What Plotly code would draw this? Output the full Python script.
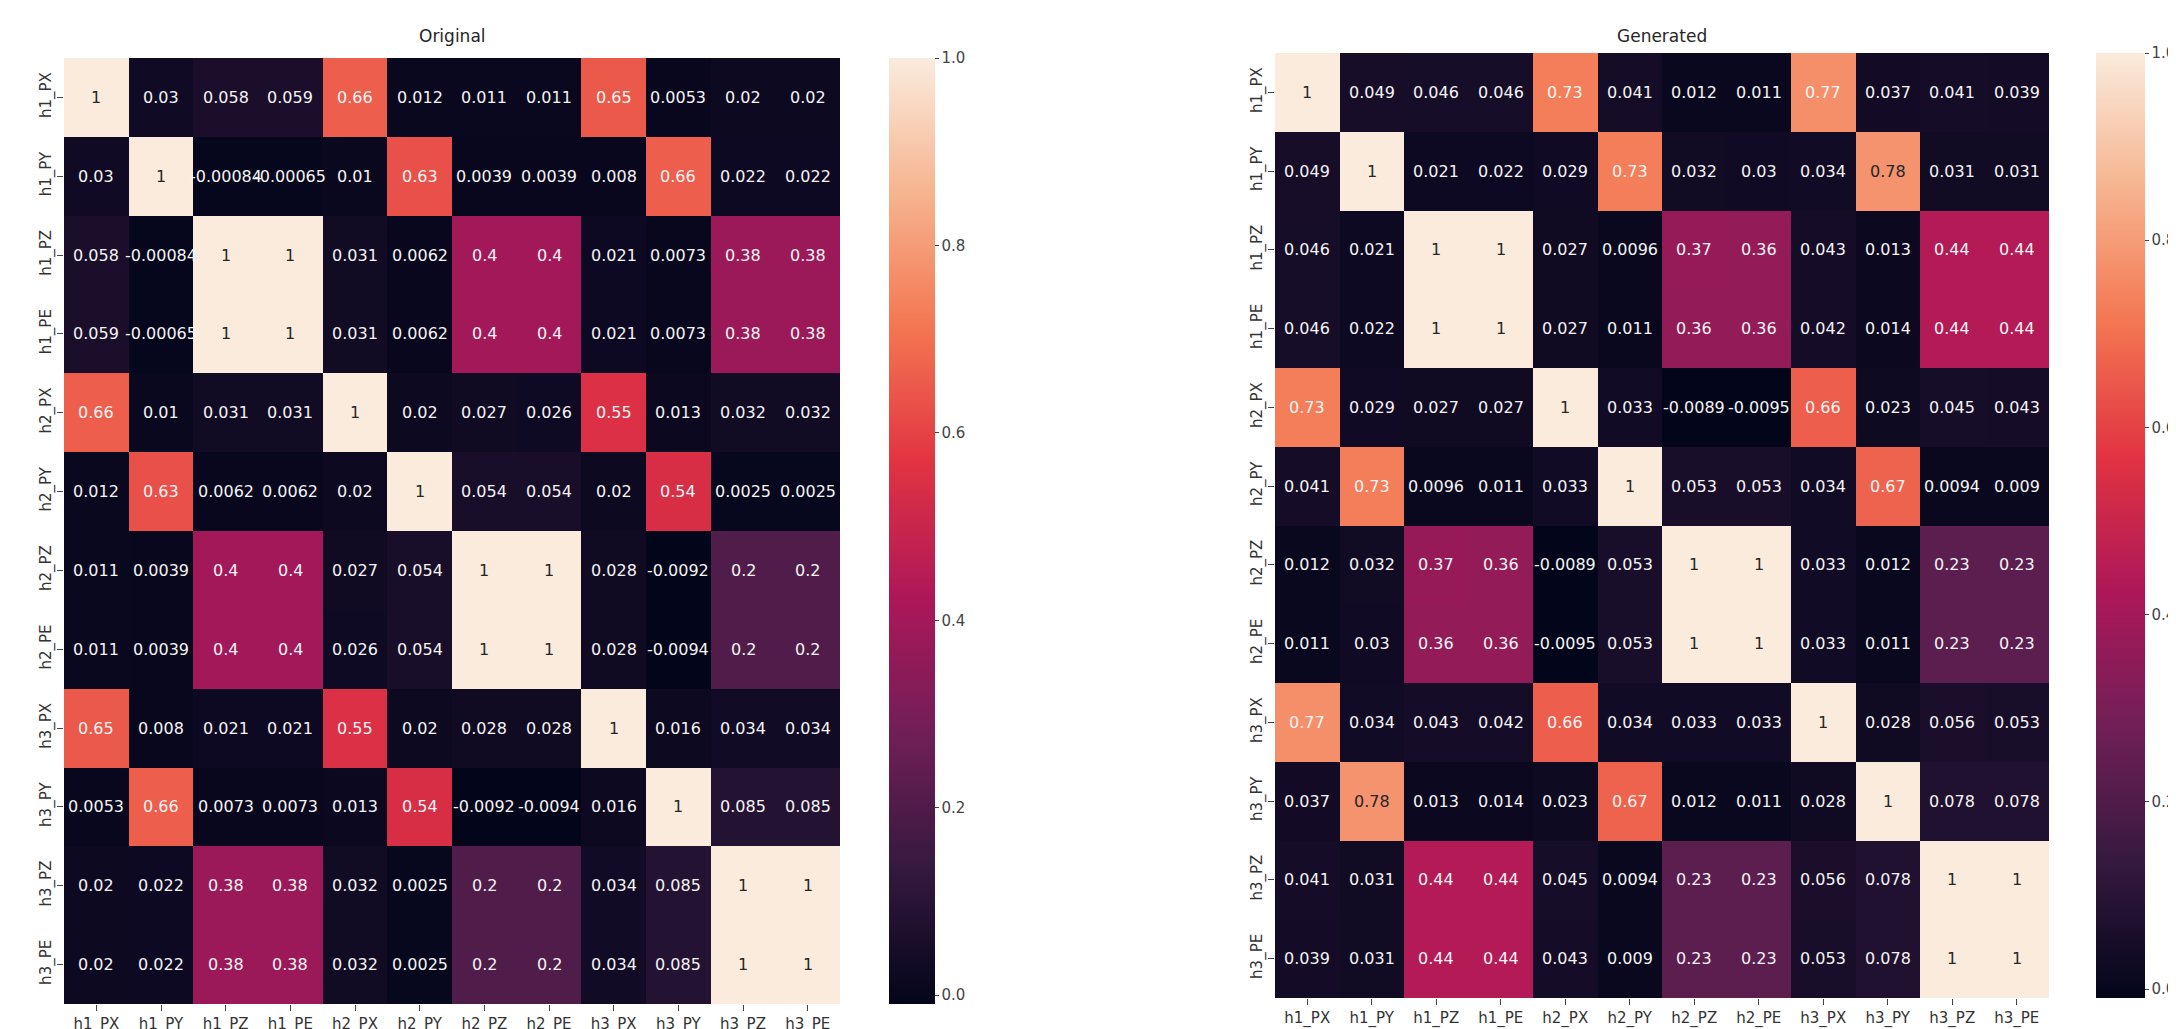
import plotly.graph_objects as go

labels = ["h1_PX", "h1_PY", "h1_PZ", "h1_PE", "h2_PX", "h2_PY",
          "h2_PZ", "h2_PE", "h3_PX", "h3_PY", "h3_PZ", "h3_PE"]

original = [
    [1, 0.03, 0.058, 0.059, 0.66, 0.012, 0.011, 0.011, 0.65, 0.0053, 0.02, 0.02],
    [0.03, 1, -0.00084, -0.00065, 0.01, 0.63, 0.0039, 0.0039, 0.008, 0.66, 0.022, 0.022],
    [0.058, -0.00084, 1, 1, 0.031, 0.0062, 0.4, 0.4, 0.021, 0.0073, 0.38, 0.38],
    [0.059, -0.00065, 1, 1, 0.031, 0.0062, 0.4, 0.4, 0.021, 0.0073, 0.38, 0.38],
    [0.66, 0.01, 0.031, 0.031, 1, 0.02, 0.027, 0.026, 0.55, 0.013, 0.032, 0.032],
    [0.012, 0.63, 0.0062, 0.0062, 0.02, 1, 0.054, 0.054, 0.02, 0.54, 0.0025, 0.0025],
    [0.011, 0.0039, 0.4, 0.4, 0.027, 0.054, 1, 1, 0.028, -0.0092, 0.2, 0.2],
    [0.011, 0.0039, 0.4, 0.4, 0.026, 0.054, 1, 1, 0.028, -0.0094, 0.2, 0.2],
    [0.65, 0.008, 0.021, 0.021, 0.55, 0.02, 0.028, 0.028, 1, 0.016, 0.034, 0.034],
    [0.0053, 0.66, 0.0073, 0.0073, 0.013, 0.54, -0.0092, -0.0094, 0.016, 1, 0.085, 0.085],
    [0.02, 0.022, 0.38, 0.38, 0.032, 0.0025, 0.2, 0.2, 0.034, 0.085, 1, 1],
    [0.02, 0.022, 0.38, 0.38, 0.032, 0.0025, 0.2, 0.2, 0.034, 0.085, 1, 1],
]

generated = [
    [1, 0.049, 0.046, 0.046, 0.73, 0.041, 0.012, 0.011, 0.77, 0.037, 0.041, 0.039],
    [0.049, 1, 0.021, 0.022, 0.029, 0.73, 0.032, 0.03, 0.034, 0.78, 0.031, 0.031],
    [0.046, 0.021, 1, 1, 0.027, 0.0096, 0.37, 0.36, 0.043, 0.013, 0.44, 0.44],
    [0.046, 0.022, 1, 1, 0.027, 0.011, 0.36, 0.36, 0.042, 0.014, 0.44, 0.44],
    [0.73, 0.029, 0.027, 0.027, 1, 0.033, -0.0089, -0.0095, 0.66, 0.023, 0.045, 0.043],
    [0.041, 0.73, 0.0096, 0.011, 0.033, 1, 0.053, 0.053, 0.034, 0.67, 0.0094, 0.009],
    [0.012, 0.032, 0.37, 0.36, -0.0089, 0.053, 1, 1, 0.033, 0.012, 0.23, 0.23],
    [0.011, 0.03, 0.36, 0.36, -0.0095, 0.053, 1, 1, 0.033, 0.011, 0.23, 0.23],
    [0.77, 0.034, 0.043, 0.042, 0.66, 0.034, 0.033, 0.033, 1, 0.028, 0.056, 0.053],
    [0.037, 0.78, 0.013, 0.014, 0.023, 0.67, 0.012, 0.011, 0.028, 1, 0.078, 0.078],
    [0.041, 0.031, 0.44, 0.44, 0.045, 0.0094, 0.23, 0.23, 0.056, 0.078, 1, 1],
    [0.039, 0.031, 0.44, 0.44, 0.043, 0.009, 0.23, 0.23, 0.053, 0.078, 1, 1],
]

cbar_ticks = [0.0, 0.2, 0.4, 0.6, 0.8, 1.0]

rocket = [(0.0, "#03051a"), (1 / 7, "#35193e"), (2 / 7, "#701f57"), (3 / 7, "#ad1759"),
          (4 / 7, "#e13342"), (5 / 7, "#f37651"), (6 / 7, "#f6b48f"), (1.0, "#faebdd")]
colorscale = [[p, c] for p, c in rocket]

W, H = 2176, 1029
FONT = "DejaVu Sans"
TXT = "#262626"


def hex2rgb(h):
    h = h.lstrip("#")
    return [int(h[i:i + 2], 16) for i in (0, 2, 4)]


def cmap(t):
    t = min(max(t, 0.0), 1.0)
    for (p0, c0), (p1, c1) in zip(rocket[:-1], rocket[1:]):
        if p0 <= t <= p1:
            f = (t - p0) / (p1 - p0)
            a, b = hex2rgb(c0), hex2rgb(c1)
            return [a[k] + f * (b[k] - a[k]) for k in range(3)]
    return hex2rgb(rocket[-1][1])


def lum(rgb):
    out = []
    for v in rgb:
        v = v / 255.0
        out.append(v / 12.92 if v <= 0.03928 else ((v + 0.055) / 1.055) ** 2.4)
    return 0.2126 * out[0] + 0.7152 * out[1] + 0.0722 * out[2]


def px_x(p):
    return p / W


def px_y(p):
    return (H - p) / H


fig = go.Figure()

panels = [
    dict(z=original, xa="x", ya="y", title="Original",
         xdom=(56, 832), ydom=(50, 996), cbx=881, cbw=46),
    dict(z=generated, xa="x2", ya="y2", title="Generated",
         xdom=(1267, 2041), ydom=(45, 990), cbx=2088, cbw=49),
]

annotations = []
for i, pnl in enumerate(panels):
    z = pnl["z"]
    zmin = min(min(r) for r in z)
    zmax = max(max(r) for r in z)
    y0, y1 = pnl["ydom"]
    fig.add_trace(go.Heatmap(
        z=z, x=labels, y=labels, xaxis=pnl["xa"], yaxis=pnl["ya"],
        zmin=zmin, zmax=zmax, colorscale=colorscale, xgap=0, ygap=0,
        colorbar=dict(
            x=px_x(pnl["cbx"]), xanchor="left", xpad=0, ypad=0,
            y=px_y(y1), yanchor="bottom", len=(y1 - y0) / H, lenmode="fraction",
            thickness=pnl["cbw"], thicknessmode="pixels", outlinewidth=0,
            tickvals=cbar_ticks, tickformat=".1f", ticks="outside", ticklen=4,
            tickcolor="#444", tickwidth=1,
            tickfont=dict(family=FONT, size=15, color="#444"),
        ),
        hoverinfo="skip",
    ))
    for r, rl in enumerate(labels):
        for c, cl in enumerate(labels):
            v = z[r][c]
            t = (v - zmin) / (zmax - zmin)
            col = TXT if lum(cmap(t)) > 0.408 else "#f4f4f4"
            annotations.append(dict(
                x=cl, y=rl, xref=pnl["xa"], yref=pnl["ya"], text=f"{v:.2g}",
                showarrow=False, font=dict(family=FONT, size=16, color=col),
            ))
    x0, x1 = pnl["xdom"]
    annotations.append(dict(
        x=px_x((x0 + x1) / 2), y=px_y(28), xref="paper", yref="paper",
        text=pnl["title"], showarrow=False, xanchor="center", yanchor="middle",
        font=dict(family=FONT, size=17, color=TXT),
    ))

axis_common = dict(
    type="category", showgrid=False, zeroline=False, showline=False,
    ticks="outside", ticklen=6, tickwidth=1, tickcolor="#444",
    tickfont=dict(family=FONT, size=15, color="#333"),
)

layout = dict(
    width=W, height=H, margin=dict(l=0, r=0, t=0, b=0),
    paper_bgcolor="white", plot_bgcolor="white", showlegend=False,
    annotations=annotations,
)
for i, pnl in enumerate(panels):
    sx = "" if i == 0 else "2"
    x0, x1 = pnl["xdom"]
    y0, y1 = pnl["ydom"]
    layout["xaxis" + sx] = dict(axis_common, domain=[px_x(x0), px_x(x1)],
                                anchor="y" + sx, tickangle=0)
    layout["yaxis" + sx] = dict(axis_common, domain=[px_y(y1), px_y(y0)],
                                anchor="x" + sx, autorange="reversed", tickangle=-90)

fig.update_layout(**layout)
fig.write_html("out.html")
